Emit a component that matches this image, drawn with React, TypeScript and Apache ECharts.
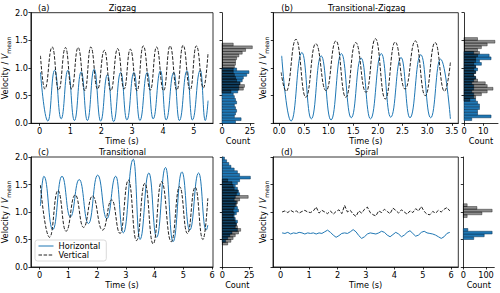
import React, { useEffect, useRef } from 'react';
import * as echarts from 'echarts';

// ---------- Data ----------
// (a) Zigzag
const aHorizTime = [0.03, 0.27, 0.49, 0.70, 0.92, 1.13, 1.35, 1.55, 1.77, 1.98, 2.20, 2.40, 2.63, 2.83, 3.06, 3.25, 3.49, 3.68, 3.92, 4.10, 4.35, 4.53, 4.78, 4.95, 5.21, 5.37, 5.46];
const aHoriz = [0.92, 0.04, 0.96, 0.08, 0.96, 0.05, 0.93, 0.05, 0.98, 0.04, 0.88, 0.03, 0.92, 0.06, 0.92, 0.05, 0.92, 0.08, 0.95, 0.06, 0.92, 0.05, 0.95, 0.06, 0.96, 0.05, 0.41];
const aVertTime = [0.03, 0.17, 0.41, 0.62, 0.84, 1.04, 1.25, 1.47, 1.66, 1.88, 2.10, 2.31, 2.53, 2.74, 2.94, 3.16, 3.36, 3.59, 3.79, 4.02, 4.23, 4.45, 4.65, 4.88, 5.08, 5.31, 5.46];
const aVert = [1.22, 0.62, 1.38, 0.60, 1.37, 0.62, 1.37, 0.59, 1.38, 0.62, 1.32, 0.59, 1.35, 0.62, 1.34, 0.59, 1.40, 0.60, 1.38, 0.59, 1.40, 0.60, 1.41, 0.60, 1.40, 0.64, 1.28];
const aHorizBinStart = 0.0;
const aHorizCounts = [12, 17, 11, 12, 13, 12, 11, 13, 12, 11, 10, 14, 15, 15, 16, 18, 19, 22, 24, 13];
const aVertBinStart = 0.55;
const aVertCounts = [8, 19, 20, 16, 13, 12, 11, 10, 10, 11, 12, 12, 13, 15, 18, 21, 27, 10];

// (b) Transitional-Zigzag
const bHorizTime = [0.05, 0.24, 0.46, 0.65, 0.85, 1.05, 1.26, 1.46, 1.66, 1.85, 2.07, 2.26, 2.47, 2.65, 2.87, 3.07, 3.27, 3.47];
const bHoriz = [1.22, 0.04, 1.28, 0.08, 1.22, 0.06, 1.26, 0.10, 1.18, 0.08, 1.26, 0.11, 1.19, 0.10, 1.24, 0.10, 1.16, 0.08];
const bVertTime = [0.04, 0.14, 0.34, 0.54, 0.74, 0.95, 1.15, 1.35, 1.55, 1.76, 1.95, 2.15, 2.35, 2.55, 2.76, 2.96, 3.16, 3.35, 3.47];
const bVert = [0.92, 0.58, 1.52, 0.47, 1.44, 0.59, 1.49, 0.47, 1.46, 0.56, 1.53, 0.44, 1.47, 0.62, 1.49, 0.50, 1.46, 0.58, 1.10];
const bHorizBinStart = 0.05;
const bHorizCounts = [4, 14, 7, 7, 8, 8, 7, 6, 5, 5, 4, 5, 5, 4, 5, 6, 5, 6, 7, 6, 9, 8, 14, 13, 5];
const bVertBinStart = 0.40;
const bVertCounts = [3, 6, 9, 12, 15, 12, 11, 7, 6, 5, 6, 5, 6, 5, 6, 6, 7, 8, 7, 9, 12, 16, 7];

// (c) Transitional
const cHorizTime = [0.03, 0.15, 0.46, 0.78, 1.07, 1.38, 1.70, 2.02, 2.34, 2.65, 2.91, 3.26, 3.49, 3.80, 4.07, 4.38, 4.64, 4.95, 5.22, 5.53, 5.79, 5.85];
const cHoriz = [1.11, 1.65, 0.68, 1.65, 0.91, 1.59, 0.79, 1.67, 0.88, 1.65, 0.62, 1.96, 0.50, 1.71, 0.54, 1.81, 0.46, 1.73, 0.67, 1.71, 0.67, 0.76];
const cVertTime = [0.03, 0.35, 0.64, 0.92, 1.24, 1.53, 1.84, 2.19, 2.51, 2.80, 3.09, 3.37, 3.66, 3.95, 4.24, 4.58, 4.87, 5.14, 5.41, 5.68, 5.85];
const cVert = [1.49, 0.54, 1.39, 0.65, 1.31, 0.72, 1.29, 0.67, 1.22, 0.61, 1.58, 0.48, 1.52, 0.42, 1.55, 0.46, 1.46, 0.61, 1.45, 0.50, 1.25];
const cHorizBinStart = 0.45;
const cHorizCounts = [3, 5, 7, 9, 14, 12, 13, 14, 12, 11, 13, 15, 14, 12, 13, 11, 12, 16, 15, 14, 12, 14, 16, 26, 16, 14, 11, 8, 6, 4, 2];
const cVertBinStart = 0.40;
const cVertCounts = [5, 8, 10, 12, 15, 17, 14, 13, 12, 11, 10, 11, 10, 11, 13, 14, 16, 24, 13, 14, 11, 10, 9, 5];

// (d) Spiral
const dTime = [0.05, 0.15, 0.25, 0.35, 0.45, 0.55, 0.65, 0.75, 0.85, 0.95, 1.05, 1.15, 1.25, 1.35, 1.45, 1.55, 1.65, 1.75, 1.85, 1.95, 2.05, 2.15, 2.25, 2.35, 2.45, 2.55, 2.65, 2.75, 2.85, 2.95, 3.05, 3.15, 3.25, 3.35, 3.45, 3.55, 3.65, 3.75, 3.85, 3.95, 4.05, 4.15, 4.25, 4.35, 4.45, 4.55, 4.65, 4.75, 4.85, 4.95, 5.05, 5.15, 5.25, 5.35, 5.45, 5.55, 5.65, 5.75, 5.85, 5.95];
const dVert = [1.00, 1.02, 0.99, 1.03, 1.00, 1.02, 0.98, 1.01, 1.03, 1.00, 0.99, 1.02, 1.09, 0.98, 1.03, 1.00, 0.97, 1.02, 0.96, 1.01, 1.04, 0.97, 1.12, 1.00, 1.03, 0.96, 0.92, 1.02, 0.98, 1.05, 1.09, 0.99, 0.95, 0.93, 1.02, 0.99, 1.05, 1.01, 0.97, 1.07, 1.03, 0.98, 1.04, 1.00, 0.96, 1.02, 0.99, 1.06, 1.02, 1.10, 1.01, 0.96, 0.95, 1.01, 0.98, 1.03, 1.00, 1.05, 1.08, 1.02];
const dHoriz = [0.62, 0.61, 0.63, 0.60, 0.62, 0.61, 0.63, 0.62, 0.60, 0.62, 0.61, 0.62, 0.60, 0.62, 0.61, 0.64, 0.67, 0.63, 0.58, 0.54, 0.57, 0.61, 0.62, 0.61, 0.64, 0.68, 0.64, 0.57, 0.52, 0.55, 0.60, 0.62, 0.61, 0.60, 0.62, 0.65, 0.63, 0.58, 0.55, 0.59, 0.63, 0.60, 0.55, 0.58, 0.63, 0.66, 0.61, 0.56, 0.58, 0.63, 0.65, 0.62, 0.61, 0.60, 0.58, 0.55, 0.52, 0.55, 0.61, 0.63];
const dHorizBinStart = 0.50;
const dHorizCounts = [46, 92, 127, 20];
const dVertBinStart = 0.90;
const dVertCounts = [17, 82, 127, 60, 17];

const BIN = 0.05;
const titles = ['Zigzag', 'Transitional-Zigzag', 'Transitional', 'Spiral'];
const letters = ['(a)', '(b)', '(c)', '(d)'];
const timeTicks = [[0, 1, 2, 3, 4, 5], [0, 0.5, 1, 1.5, 2, 2.5, 3, 3.5], [0, 1, 2, 3, 4, 5, 6], [0, 1, 2, 3, 4, 5, 6]];
const countTicks = [[0, 25], [0, 10], [0, 25], [0, 100]];
const velTicks = [0, 0.5, 1, 1.5, 2];

// ---------- Styling / layout ----------
const FONT = 'DejaVu Sans';
const BLUE = '#1f77b4';
const FS = 8.2;

const mainGrids = [
  { left: 30, top: 12.7, width: 183, height: 110.6, xmin: -0.28, xmax: 5.62 },
  { left: 273.3, top: 12.7, width: 185, height: 110.6, xmin: -0.12, xmax: 3.63 },
  { left: 30, top: 157, width: 183, height: 110, xmin: -0.3, xmax: 6.03 },
  { left: 273, top: 157, width: 185.3, height: 110, xmin: -0.27, xmax: 6.25 },
];
const histGrids = [
  { left: 222, top: 12.7, width: 32, height: 110.6, max: 28.5 },
  { left: 464, top: 12.7, width: 34, height: 110.6, max: 17.6 },
  { left: 222.3, top: 157, width: 30, height: 110, max: 27.8 },
  { left: 463.3, top: 157, width: 31, height: 110, max: 136.6 },
];

function toBins(start: number, counts: number[]) {
  return counts.map((c, i) => [start + i * BIN, start + (i + 1) * BIN, c]);
}
function pairs(t: number[], v: number[]) {
  return t.map((x, i) => [x, v[i]]);
}

const lbl = { fontFamily: FONT, fontSize: FS, color: '#000' };
const axLine = { show: true, onZero: false, lineStyle: { color: '#000', width: 0.8 } };

function yName() {
  return {
    name: '{n|Velocity / }{v|V}{s|mean}',
    nameLocation: 'middle',
    nameTextStyle: {
      ...lbl,
      rich: {
        n: { fontFamily: FONT, fontSize: FS, lineHeight: 12, verticalAlign: 'middle', color: '#000' },
        v: { fontFamily: FONT, fontSize: FS, fontStyle: 'italic', lineHeight: 12, verticalAlign: 'middle', color: '#000' },
        s: { fontFamily: FONT, fontSize: 6, lineHeight: 12, verticalAlign: 'bottom', color: '#000' },
      },
    },
  };
}

function buildOption() {
  const grid: any[] = [];
  const xAxis: any[] = [];
  const yAxis: any[] = [];
  const series: any[] = [];
  const graphic: any[] = [];

  const lines = [
    [aHorizTime, aHoriz, aVertTime, aVert],
    [bHorizTime, bHoriz, bVertTime, bVert],
    [cHorizTime, cHoriz, cVertTime, cVert],
    [dTime, dHoriz, dTime, dVert],
  ];
  const hists = [
    [aHorizBinStart, aHorizCounts, aVertBinStart, aVertCounts],
    [bHorizBinStart, bHorizCounts, bVertBinStart, bVertCounts],
    [cHorizBinStart, cHorizCounts, cVertBinStart, cVertCounts],
    [dHorizBinStart, dHorizCounts, dVertBinStart, dVertCounts],
  ];

  for (let p = 0; p < 4; p++) {
    const g = mainGrids[p];
    const h = histGrids[p];
    const mi = p * 2;
    const hi = p * 2 + 1;
    const leftCol = p % 2 === 0;
    grid.push({ left: g.left, top: g.top, width: g.width, height: g.height, show: true, borderColor: '#000', borderWidth: 0.8, backgroundColor: 'transparent' });
    grid.push({ left: h.left, top: h.top, width: h.width, height: h.height });

    const tt = timeTicks[p];
    xAxis.push({
      type: 'value', gridIndex: mi, min: g.xmin, max: g.xmax,
      axisLine: axLine,
      axisTick: { show: true, length: 2.5, lineStyle: { color: '#000', width: 0.8 }, customValues: tt },
      axisLabel: { ...lbl, margin: 4, customValues: tt, formatter: (v: number) => (p === 1 ? v.toFixed(1) : String(Math.round(v))) },
      splitLine: { show: false },
      name: 'Time (s)', nameLocation: 'middle', nameGap: 14, nameTextStyle: lbl,
    });
    yAxis.push({
      type: 'value', gridIndex: mi, min: 0, max: 2,
      axisLine: axLine,
      axisTick: { show: true, length: 2.5, lineStyle: { color: '#000', width: 0.8 }, customValues: velTicks },
      axisLabel: { ...lbl, show: leftCol, margin: 3, customValues: velTicks, formatter: (v: number) => v.toFixed(1) },
      splitLine: { show: false },
      ...yName(),
      nameGap: leftCol ? 14 : 4,
    });

    const ct = countTicks[p];
    xAxis.push({
      type: 'value', gridIndex: hi, min: 0, max: h.max,
      axisLine: axLine,
      axisTick: { show: true, length: 2.5, lineStyle: { color: '#000', width: 0.8 }, customValues: ct },
      axisLabel: { ...lbl, margin: 4, customValues: ct, formatter: (v: number) => String(v) },
      splitLine: { show: false },
      name: 'Count', nameLocation: 'middle', nameGap: 14, nameTextStyle: lbl,
    });
    yAxis.push({
      type: 'value', gridIndex: hi, min: 0, max: 2,
      axisLine: axLine,
      axisTick: { show: true, length: 2.5, lineStyle: { color: '#000', width: 0.8 }, customValues: velTicks },
      axisLabel: { show: false },
      splitLine: { show: false },
    });

    const [ht, hv, vt, vv] = lines[p] as number[][];
    const smooth = p === 3 ? false : 0.5;
    series.push({
      type: 'line', name: 'Horizontal', xAxisIndex: mi, yAxisIndex: mi,
      data: pairs(ht, hv), symbol: 'none', smooth, smoothMonotone: 'x',
      lineStyle: { color: BLUE, width: 1 }, itemStyle: { color: BLUE }, z: 2,
    });
    series.push({
      type: 'line', name: 'Vertical', xAxisIndex: mi, yAxisIndex: mi,
      data: pairs(vt, vv), symbol: 'none', smooth, smoothMonotone: 'x',
      lineStyle: { color: '#222', width: 1, type: [3.5, 1.6] }, itemStyle: { color: '#222' }, z: 3,
    });

    const [hs, hc, vs, vc] = hists[p] as any[];
    const mk = (data: number[][], fill: string, stroke: string, z: number) => ({
      type: 'custom', xAxisIndex: hi, yAxisIndex: hi, data, z, silent: true,
      encode: { x: 2, y: [0, 1] },
      renderItem: (params: any, api: any) => {
        const p0 = api.coord([0, api.value(0)]);
        const p1 = api.coord([api.value(2), api.value(1)]);
        return {
          type: 'rect',
          shape: { x: p0[0], y: p1[1], width: p1[0] - p0[0], height: p0[1] - p1[1] },
          style: { fill, stroke, lineWidth: 0.5 },
        };
      },
    });
    series.push(mk(toBins(hs, hc), BLUE, '#0b3050', 2));
    series.push(mk(toBins(vs, vc), 'rgba(0,0,0,0.45)', 'rgba(0,0,0,0.75)', 3));

    const titleY = g.top - 4.7;
    graphic.push({ type: 'text', x: g.left + 8, y: titleY, style: { text: letters[p], fontFamily: FONT, fontSize: FS, fill: '#000', align: 'left', verticalAlign: 'middle' } });
    graphic.push({ type: 'text', x: g.left + g.width / 2 + 1, y: titleY, style: { text: titles[p], fontFamily: FONT, fontSize: FS, fill: '#000', align: 'center', verticalAlign: 'middle' } });
  }

  return {
    animation: false,
    backgroundColor: '#fff',
    grid, xAxis, yAxis, series, graphic,
    legend: {
      data: ['Horizontal', 'Vertical'],
      left: 35, top: 240, orient: 'vertical',
      itemWidth: 15, itemHeight: 8, itemGap: 1,
      padding: [2, 6, 2, 3],
      borderColor: '#d0d0d0', borderWidth: 0.8, borderRadius: 2.5,
      backgroundColor: 'rgba(255,255,255,0.8)',
      itemStyle: { opacity: 0, color: 'rgba(0,0,0,0)', borderColor: 'rgba(0,0,0,0)', borderWidth: 0 },
      lineStyle: { width: 1 },
      textStyle: { fontFamily: FONT, fontSize: FS, color: '#000' },
      selectedMode: false,
    },
  };
}

export default function App() {
  const ref = useRef<HTMLDivElement>(null);
  useEffect(() => {
    if (!ref.current) return;
    const chart = echarts.init(ref.current, undefined, { renderer: 'svg' });
    chart.setOption(buildOption() as any);
    return () => chart.dispose();
  }, []);
  return <div ref={ref} style={{ position: 'fixed', left: 0, top: 0, width: 500, height: 293, background: '#fff' }} />;
}
